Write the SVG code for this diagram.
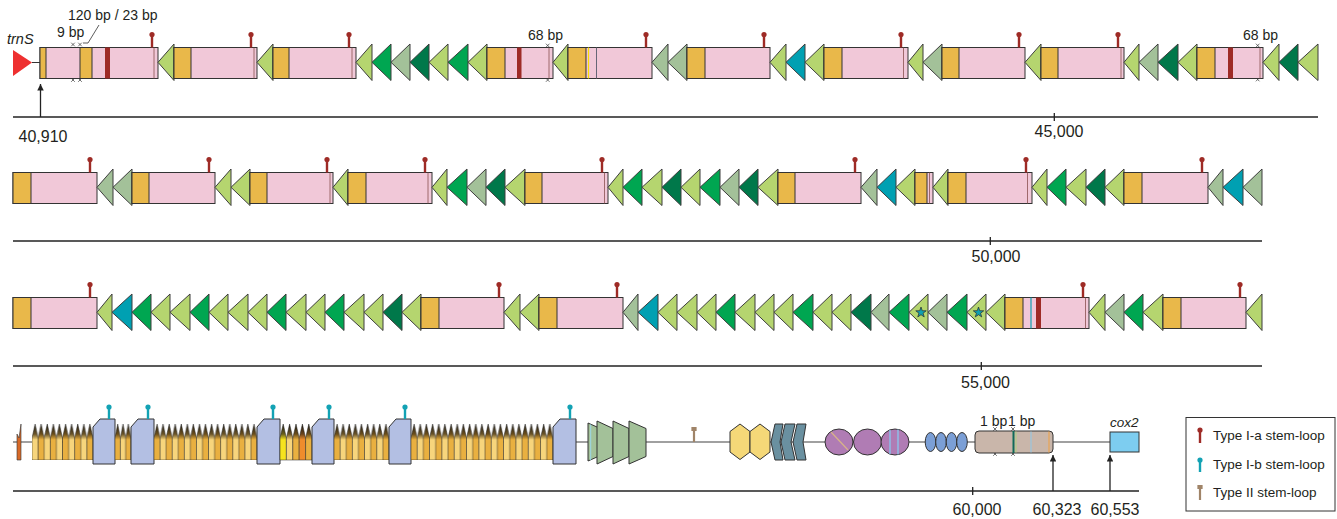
<svg xmlns="http://www.w3.org/2000/svg" width="1337" height="519" viewBox="0 0 1337 519">
<style>
.b{stroke:#333;stroke-width:1}
.pk{fill:#f1c8d8}
.or{fill:#e9b84a}
.dr{fill:#9e2b26}
.t{stroke:#3d3d3d;stroke-width:1;stroke-linejoin:miter}
.lg{fill:#b5d56f}
.g{fill:#00a651}
.gg{fill:#a3c199}
.dg{fill:#00784a}
.tl{fill:#00a0b2}
.thin{stroke:#8a5050;stroke-width:0.8}
.ax{stroke:#222;stroke-width:1.3;fill:none}
.bk{stroke:#808080;stroke-width:1.5}
.lb{font-family:"Liberation Sans",Arial,sans-serif;font-size:16px;fill:#231f20}
.sm{font-family:"Liberation Sans",Arial,sans-serif;font-size:14px;fill:#231f20}
.it{font-style:italic}
.lv{fill:#b3bfe3;stroke:#333;stroke-width:1}
.xm{stroke:#333;stroke-width:0.7}
</style>
<defs>
<g id="sa"><line x1="0" y1="0" x2="0" y2="-12" stroke="#9e2b26" stroke-width="2.4"/><circle cx="0" cy="-13" r="2.6" fill="#9e2b26"/></g>
<g id="sb"><line x1="0" y1="0" x2="0" y2="-11" stroke="#13a2b4" stroke-width="2.4"/><circle cx="0" cy="-12" r="2.6" fill="#13a2b4"/></g>
<g id="s2"><line x1="0" y1="0" x2="0" y2="-12" stroke="#a08468" stroke-width="2.2"/><rect x="-2.6" y="-15" width="5.2" height="4" fill="#a08468"/></g>
<polygon id="star" points="0,-5.5 1.29,-1.78 5.23,-1.7 2.09,0.68 3.23,4.45 0,2.2 -3.23,4.45 -2.09,0.68 -5.23,-1.7 -1.29,-1.78" fill="#10a0b0" stroke="#2a2a2a" stroke-width="0.7"/>
<g id="xx"><line x1="-1.8" y1="-1.8" x2="1.8" y2="1.8"/><line x1="-1.8" y1="1.8" x2="1.8" y2="-1.8"/></g>
<marker id="ah" viewBox="0 0 10 10" refX="10" refY="5" markerWidth="5" markerHeight="5" orient="auto"><path d="M0,0 L10,5 L0,10 z" fill="#222"/></marker>
<linearGradient id="zgL" x1="0" y1="0" x2="0" y2="1"><stop offset="0" stop-color="#1e1a12"/><stop offset="0.28" stop-color="#6a5428"/><stop offset="0.44" stop-color="#f7d57c"/><stop offset="1" stop-color="#f7d57c"/></linearGradient>
<linearGradient id="zgO" x1="0" y1="0" x2="0" y2="1"><stop offset="0" stop-color="#1e1a12"/><stop offset="0.28" stop-color="#6a4e1c"/><stop offset="0.44" stop-color="#e9b040"/><stop offset="1" stop-color="#e9b040"/></linearGradient>
<linearGradient id="zgY" x1="0" y1="0" x2="0" y2="1"><stop offset="0" stop-color="#1e1a12"/><stop offset="0.28" stop-color="#6a601c"/><stop offset="0.44" stop-color="#f6e31e"/><stop offset="1" stop-color="#f6e31e"/></linearGradient>
<linearGradient id="zgR" x1="0" y1="0" x2="0" y2="1"><stop offset="0" stop-color="#1e1a12"/><stop offset="0.28" stop-color="#6a441c"/><stop offset="0.44" stop-color="#ef8c2c"/><stop offset="1" stop-color="#ef8c2c"/></linearGradient>
<pattern id="zz1" patternUnits="userSpaceOnUse" x="32" y="424" width="12.2" height="36"><polygon points="0,36 0,14 3.05,0 6.1,14 6.1,36" fill="url(#zgL)" stroke="#222" stroke-width="0.5"/><polygon points="6.1,36 6.1,14 9.15,0 12.2,14 12.2,36" fill="url(#zgO)" stroke="#222" stroke-width="0.5"/></pattern>
<pattern id="zz2" patternUnits="userSpaceOnUse" x="115" y="424" width="10.66" height="36"><polygon points="0,36 0,14 2.67,0 5.33,14 5.33,36" fill="url(#zgO)" stroke="#222" stroke-width="0.5"/><polygon points="5.33,36 5.33,14 8,0 10.66,14 10.66,36" fill="url(#zgL)" stroke="#222" stroke-width="0.5"/></pattern>
<pattern id="zz3" patternUnits="userSpaceOnUse" x="154" y="424" width="12.12" height="36"><polygon points="0,36 0,14 3.03,0 6.06,14 6.06,36" fill="url(#zgO)" stroke="#222" stroke-width="0.5"/><polygon points="6.06,36 6.06,14 9.09,0 12.12,14 12.12,36" fill="url(#zgL)" stroke="#222" stroke-width="0.5"/></pattern>
<pattern id="zz5" patternUnits="userSpaceOnUse" x="334" y="424" width="12.22" height="36"><polygon points="0,36 0,14 3.05,0 6.11,14 6.11,36" fill="url(#zgO)" stroke="#222" stroke-width="0.5"/><polygon points="6.11,36 6.11,14 9.16,0 12.22,14 12.22,36" fill="url(#zgL)" stroke="#222" stroke-width="0.5"/></pattern>
<pattern id="zz6" patternUnits="userSpaceOnUse" x="411" y="424" width="12.34" height="36"><polygon points="0,36 0,14 3.08,0 6.17,14 6.17,36" fill="url(#zgO)" stroke="#222" stroke-width="0.5"/><polygon points="6.17,36 6.17,14 9.25,0 12.34,14 12.34,36" fill="url(#zgL)" stroke="#222" stroke-width="0.5"/></pattern>
</defs>
<rect width="1337" height="519" fill="#fff"/>

<g id="connectors">
<line class="ax" x1="13" y1="117" x2="1318" y2="117"/>
<line class="ax" x1="1054.3" y1="113" x2="1054.3" y2="121"/>
<line class="ax" x1="40.5" y1="117" x2="40.5" y2="84" marker-end="url(#ah)"/>
<line class="ax" x1="13" y1="241" x2="1262" y2="241"/>
<line class="ax" x1="990.3" y1="237" x2="990.3" y2="245"/>
<line class="ax" x1="13" y1="366" x2="1262" y2="366"/>
<line class="ax" x1="981.3" y1="362" x2="981.3" y2="370"/>
<line class="ax" x1="13" y1="491" x2="1139" y2="491"/>
<line class="ax" x1="972.7" y1="487" x2="972.7" y2="495"/>
<line class="ax" x1="1053" y1="491" x2="1053" y2="455" marker-end="url(#ah)"/>
<line class="ax" x1="1110" y1="491" x2="1110" y2="455" marker-end="url(#ah)"/>
<line stroke="#333" stroke-width="1" x1="32" y1="62.5" x2="40" y2="62.5"/>
<line class="bk" x1="13" y1="442" x2="1110" y2="442"/>
</g>

<g id="labels">
<text class="lb" x="43" y="141.5" text-anchor="middle">40,910</text>
<text class="lb" x="1059" y="137" text-anchor="middle">45,000</text>
<text class="lb" x="996" y="261.5" text-anchor="middle">50,000</text>
<text class="lb" x="985.5" y="387.5" text-anchor="middle">55,000</text>
<text class="lb" x="977" y="515" text-anchor="middle">60,000</text>
<text class="lb" x="1057" y="515" text-anchor="middle">60,323</text>
<text class="lb" x="1115" y="515" text-anchor="middle">60,553</text>
<text class="sm it" x="7" y="44" style="font-size:14.5px">trnS</text>
<text class="sm" x="57" y="37">9 bp</text>
<text class="sm" x="68" y="20">120 bp / 23 bp</text>
<polyline points="83,43 88,43 99,25" fill="none" stroke="#333" stroke-width="0.8"/>
<text class="sm" x="528" y="40">68 bp</text>
<text class="sm" x="1243" y="40">68 bp</text>
<text class="sm" x="980" y="426">1 bp</text>
<text class="sm" x="1008" y="426">1 bp</text>
<text class="sm it" x="1110" y="427" style="font-size:13.5px">cox2</text>
<g class="xm">
<use href="#xx" x="73" y="44.5"/><use href="#xx" x="80" y="44.5"/><use href="#xx" x="73" y="80"/><use href="#xx" x="80" y="80"/>
<use href="#xx" x="547.7" y="45.5"/><use href="#xx" x="547.7" y="80"/>
<use href="#xx" x="1257.7" y="45.5"/><use href="#xx" x="1257.7" y="79.5"/>
<use href="#xx" x="995" y="429"/><use href="#xx" x="995" y="454"/><use href="#xx" x="1013" y="429"/><use href="#xx" x="1013" y="454"/>
</g>
</g>

<!-- ROW 1 -->
<g id="r1_trnS"><polygon points="13,50 32,62.5 13,76" fill="#ee3030"/></g>
<g id="r1_A"><rect class="b pk" x="40" y="47.5" width="118" height="31"/><rect class="b or" x="40" y="47.5" width="6" height="31"/><rect class="b or" x="80" y="47.5" width="12" height="31"/><rect class="dr" x="105" y="47.5" width="5" height="31"/><line class="thin" x1="154" y1="47.5" x2="154" y2="78.5"/><use href="#sa" x="152" y="47.5"/></g>
<g id="r1_t1"><polygon class="t lg" points="158,62.3 174,44 174,80.5"/></g>
<g id="r1_B"><rect class="b pk" x="174" y="47.5" width="83" height="31"/><rect class="b or" x="174" y="47.5" width="17" height="31"/><line class="thin" x1="254" y1="47.5" x2="254" y2="78.5"/><use href="#sa" x="251" y="47.5"/></g>
<g id="r1_t2"><polygon class="t lg" points="257,62.3 273,44 273,80.5"/></g>
<g id="r1_C"><rect class="b pk" x="273" y="47.5" width="83" height="31"/><rect class="b or" x="273" y="47.5" width="16" height="31"/><line class="thin" x1="352" y1="47.5" x2="352" y2="78.5"/><use href="#sa" x="349" y="47.5"/></g>
<g id="r1_t3"><polygon class="t lg" points="356,62.3 372,44 372,80.5"/></g>
<g id="r1_t4"><polygon class="t g" points="372,62.3 391,44 391,80.5"/></g>
<g id="r1_t5"><polygon class="t gg" points="391,62.3 410,44 410,80.5"/></g>
<g id="r1_t6"><polygon class="t dg" points="410,62.3 429,44 429,80.5"/></g>
<g id="r1_t7"><polygon class="t lg" points="429,62.3 448,44 448,80.5"/></g>
<g id="r1_t8"><polygon class="t g" points="448,62.3 468,44 468,80.5"/></g>
<g id="r1_t9"><polygon class="t lg" points="468,62.3 487,44 487,80.5"/></g>
<g id="r1_D"><rect class="b pk" x="487" y="47.5" width="66" height="31"/><rect class="b or" x="487" y="47.5" width="18" height="31"/><rect class="dr" x="517" y="47.5" width="4.5" height="31"/><line class="thin" x1="549" y1="47.5" x2="549" y2="78.5"/></g>
<g id="r1_t10"><polygon class="t lg" points="553,62.3 568,44 568,80.5"/></g>
<g id="r1_E"><rect class="b pk" x="568" y="47.5" width="84" height="31"/><rect class="b or" x="568" y="47.5" width="18" height="31"/><line x1="588.5" y1="47.5" x2="588.5" y2="78.5" stroke="#f5e000" stroke-width="1.2"/><line x1="596.5" y1="47.5" x2="596.5" y2="78.5" stroke="#667" stroke-width="1"/><use href="#sa" x="646" y="47.5"/></g>
<g id="r1_t11"><polygon class="t gg" points="652,62.3 668,44 668,80.5"/></g>
<g id="r1_t12"><polygon class="t gg" points="668,62.3 687,44 687,80.5"/></g>
<g id="r1_F"><rect class="b pk" x="687" y="47.5" width="83" height="31"/><rect class="b or" x="687" y="47.5" width="18" height="31"/><use href="#sa" x="764" y="47.5"/></g>
<g id="r1_t13"><polygon class="t lg" points="770,62.3 786,44 786,80.5"/></g>
<g id="r1_t14"><polygon class="t tl" points="786,62.3 805,44 805,80.5"/></g>
<g id="r1_t15"><polygon class="t lg" points="805,62.3 824,44 824,80.5"/></g>
<g id="r1_G"><rect class="b pk" x="824" y="47.5" width="84" height="31"/><rect class="b or" x="824" y="47.5" width="18" height="31"/><line class="thin" x1="903.5" y1="47.5" x2="903.5" y2="78.5"/><use href="#sa" x="901" y="47.5"/></g>
<g id="r1_t16"><polygon class="t lg" points="908,62.3 923,44 923,80.5"/></g>
<g id="r1_t17"><polygon class="t gg" points="923,62.3 942,44 942,80.5"/></g>
<g id="r1_H"><rect class="b pk" x="942" y="47.5" width="83" height="31"/><rect class="b or" x="942" y="47.5" width="17" height="31"/><use href="#sa" x="1019" y="47.5"/></g>
<g id="r1_t18"><polygon class="t lg" points="1025,62.3 1041,44 1041,80.5"/></g>
<g id="r1_I"><rect class="b pk" x="1041" y="47.5" width="83" height="31"/><rect class="b or" x="1041" y="47.5" width="17" height="31"/><line class="thin" x1="1121" y1="47.5" x2="1121" y2="78.5"/><use href="#sa" x="1118" y="47.5"/></g>
<g id="r1_t19"><polygon class="t lg" points="1124,62.3 1139,44 1139,80.5"/></g>
<g id="r1_t20"><polygon class="t gg" points="1139,62.3 1158,44 1158,80.5"/></g>
<g id="r1_t21"><polygon class="t dg" points="1158,62.3 1178,44 1178,80.5"/></g>
<g id="r1_t22"><polygon class="t lg" points="1178,62.3 1197,44 1197,80.5"/></g>
<g id="r1_J"><rect class="b pk" x="1197" y="47.5" width="66" height="31"/><rect class="b or" x="1197" y="47.5" width="18" height="31"/><rect class="dr" x="1228" y="47.5" width="5" height="31"/><line class="thin" x1="1260" y1="47.5" x2="1260" y2="78.5"/></g>
<g id="r1_t23"><polygon class="t lg" points="1263,62.3 1279,44 1279,80.5"/></g>
<g id="r1_t24"><polygon class="t dg" points="1279,62.3 1298,44 1298,80.5"/></g>
<g id="r1_t25"><polygon class="t lg" points="1298,62.3 1318,44 1318,80.5"/></g>

<!-- ROW 2 -->
<g id="r2_A"><rect class="b pk" x="13" y="172.5" width="84" height="31"/><rect class="b or" x="13" y="172.5" width="18" height="31"/><use href="#sa" x="90" y="172.5"/></g>
<g id="r2_t1"><polygon class="t gg" points="97,187.3 113,169 113,205.5"/></g>
<g id="r2_t2"><polygon class="t gg" points="113,187.3 132,169 132,205.5"/></g>
<g id="r2_B"><rect class="b pk" x="132" y="172.5" width="83" height="31"/><rect class="b or" x="132" y="172.5" width="17" height="31"/><use href="#sa" x="209" y="172.5"/></g>
<g id="r2_t3"><polygon class="t lg" points="215,187.3 231,169 231,205.5"/></g>
<g id="r2_t4"><polygon class="t lg" points="231,187.3 250,169 250,205.5"/></g>
<g id="r2_C"><rect class="b pk" x="250" y="172.5" width="83" height="31"/><rect class="b or" x="250" y="172.5" width="17" height="31"/><line class="thin" x1="330" y1="172.5" x2="330" y2="203.5"/><use href="#sa" x="327" y="172.5"/></g>
<g id="r2_t5"><polygon class="t lg" points="333,187.3 348,169 348,205.5"/></g>
<g id="r2_D"><rect class="b pk" x="348" y="172.5" width="84" height="31"/><rect class="b or" x="348" y="172.5" width="18" height="31"/><line class="thin" x1="428" y1="172.5" x2="428" y2="203.5"/><use href="#sa" x="425" y="172.5"/></g>
<g id="r2_t6"><polygon class="t lg" points="432,187.3 447,169 447,205.5"/></g>
<g id="r2_t7"><polygon class="t g" points="447,187.3 467,169 467,205.5"/></g>
<g id="r2_t8"><polygon class="t gg" points="467,187.3 486,169 486,205.5"/></g>
<g id="r2_t9"><polygon class="t dg" points="486,187.3 505,169 505,205.5"/></g>
<g id="r2_t10"><polygon class="t lg" points="505,187.3 525,169 525,205.5"/></g>
<g id="r2_E"><rect class="b pk" x="525" y="172.5" width="83" height="31"/><rect class="b or" x="525" y="172.5" width="17" height="31"/><line class="thin" x1="604.5" y1="172.5" x2="604.5" y2="203.5"/><use href="#sa" x="602" y="172.5"/></g>
<g id="r2_t11"><polygon class="t lg" points="608,187.3 623,169 623,205.5"/></g>
<g id="r2_t12"><polygon class="t g" points="623,187.3 642,169 642,205.5"/></g>
<g id="r2_t13"><polygon class="t lg" points="642,187.3 662,169 662,205.5"/></g>
<g id="r2_t14"><polygon class="t dg" points="662,187.3 681,169 681,205.5"/></g>
<g id="r2_t15"><polygon class="t lg" points="681,187.3 700,169 700,205.5"/></g>
<g id="r2_t16"><polygon class="t g" points="700,187.3 720,169 720,205.5"/></g>
<g id="r2_t17"><polygon class="t gg" points="720,187.3 739,169 739,205.5"/></g>
<g id="r2_t18"><polygon class="t dg" points="739,187.3 758,169 758,205.5"/></g>
<g id="r2_t19"><polygon class="t lg" points="758,187.3 778,169 778,205.5"/></g>
<g id="r2_F"><rect class="b pk" x="778" y="172.5" width="83" height="31"/><rect class="b or" x="778" y="172.5" width="17" height="31"/><use href="#sa" x="855" y="172.5"/></g>
<g id="r2_t20"><polygon class="t gg" points="861,187.3 877,169 877,205.5"/></g>
<g id="r2_t21"><polygon class="t tl" points="877,187.3 896,169 896,205.5"/></g>
<g id="r2_t22"><polygon class="t lg" points="896,187.3 915,169 915,205.5"/></g>
<g id="r2_G"><rect class="b pk" x="915" y="172.5" width="18" height="31"/><rect class="b or" x="915" y="172.5" width="12" height="31"/><line class="thin" x1="929.5" y1="172.5" x2="929.5" y2="203.5"/></g>
<g id="r2_t23"><polygon class="t lg" points="933,187.3 948,169 948,205.5"/></g>
<g id="r2_H"><rect class="b pk" x="948" y="172.5" width="84" height="31"/><rect class="b or" x="948" y="172.5" width="18" height="31"/><line class="thin" x1="1027.5" y1="172.5" x2="1027.5" y2="203.5"/><use href="#sa" x="1026" y="172.5"/></g>
<g id="r2_t24"><polygon class="t lg" points="1032,187.3 1047,169 1047,205.5"/></g>
<g id="r2_t25"><polygon class="t g" points="1047,187.3 1066,169 1066,205.5"/></g>
<g id="r2_t26"><polygon class="t lg" points="1066,187.3 1086,169 1086,205.5"/></g>
<g id="r2_t27"><polygon class="t dg" points="1086,187.3 1105,169 1105,205.5"/></g>
<g id="r2_t28"><polygon class="t lg" points="1105,187.3 1124,169 1124,205.5"/></g>
<g id="r2_I"><rect class="b pk" x="1124" y="172.5" width="84" height="31"/><rect class="b or" x="1124" y="172.5" width="18" height="31"/><use href="#sa" x="1202" y="172.5"/></g>
<g id="r2_t29"><polygon class="t gg" points="1208,187.3 1223,169 1223,205.5"/></g>
<g id="r2_t30"><polygon class="t tl" points="1223,187.3 1243,169 1243,205.5"/></g>
<g id="r2_t31"><polygon class="t gg" points="1243,187.3 1262,169 1262,205.5"/></g>

<!-- ROW 3 -->
<g id="r3_A"><rect class="b pk" x="13" y="297.5" width="84" height="31"/><rect class="b or" x="13" y="297.5" width="18" height="31"/><use href="#sa" x="90" y="297.5"/></g>
<g id="r3_t1"><polygon class="t lg" points="97,312.3 112,294 112,330.5"/></g>
<g id="r3_t2"><polygon class="t tl" points="112,312.3 132,294 132,330.5"/></g>
<g id="r3_t3"><polygon class="t g" points="132,312.3 151,294 151,330.5"/></g>
<g id="r3_t4"><polygon class="t lg" points="151,312.3 170,294 170,330.5"/></g>
<g id="r3_t5"><polygon class="t lg" points="170,312.3 190,294 190,330.5"/></g>
<g id="r3_t6"><polygon class="t g" points="190,312.3 209,294 209,330.5"/></g>
<g id="r3_t7"><polygon class="t lg" points="209,312.3 228,294 228,330.5"/></g>
<g id="r3_t8"><polygon class="t lg" points="228,312.3 248,294 248,330.5"/></g>
<g id="r3_t9"><polygon class="t lg" points="248,312.3 267,294 267,330.5"/></g>
<g id="r3_t10"><polygon class="t g" points="267,312.3 286,294 286,330.5"/></g>
<g id="r3_t11"><polygon class="t lg" points="286,312.3 306,294 306,330.5"/></g>
<g id="r3_t12"><polygon class="t lg" points="306,312.3 325,294 325,330.5"/></g>
<g id="r3_t13"><polygon class="t g" points="325,312.3 344,294 344,330.5"/></g>
<g id="r3_t14"><polygon class="t lg" points="344,312.3 364,294 364,330.5"/></g>
<g id="r3_t15"><polygon class="t lg" points="364,312.3 383,294 383,330.5"/></g>
<g id="r3_t16"><polygon class="t dg" points="383,312.3 402,294 402,330.5"/></g>
<g id="r3_t17"><polygon class="t lg" points="402,312.3 421,294 421,330.5"/></g>
<g id="r3_B"><rect class="b pk" x="421" y="297.5" width="83" height="31"/><rect class="b or" x="421" y="297.5" width="18" height="31"/><use href="#sa" x="499" y="297.5"/></g>
<g id="r3_t18"><polygon class="t lg" points="504,312.3 520,294 520,330.5"/></g>
<g id="r3_t19"><polygon class="t lg" points="520,312.3 539,294 539,330.5"/></g>
<g id="r3_C"><rect class="b pk" x="539" y="297.5" width="84" height="31"/><rect class="b or" x="539" y="297.5" width="18" height="31"/><use href="#sa" x="617" y="297.5"/></g>
<g id="r3_t20"><polygon class="t gg" points="623,312.3 638,294 638,330.5"/></g>
<g id="r3_t21"><polygon class="t tl" points="638,312.3 658,294 658,330.5"/></g>
<g id="r3_t22"><polygon class="t lg" points="658,312.3 677,294 677,330.5"/></g>
<g id="r3_t23"><polygon class="t lg" points="677,312.3 697,294 697,330.5"/></g>
<g id="r3_t24"><polygon class="t lg" points="697,312.3 716,294 716,330.5"/></g>
<g id="r3_t25"><polygon class="t g" points="716,312.3 735,294 735,330.5"/></g>
<g id="r3_t26"><polygon class="t lg" points="735,312.3 755,294 755,330.5"/></g>
<g id="r3_t27"><polygon class="t lg" points="755,312.3 774,294 774,330.5"/></g>
<g id="r3_t28"><polygon class="t lg" points="774,312.3 793,294 793,330.5"/></g>
<g id="r3_t29"><polygon class="t g" points="793,312.3 813,294 813,330.5"/></g>
<g id="r3_t30"><polygon class="t lg" points="813,312.3 832,294 832,330.5"/></g>
<g id="r3_t31"><polygon class="t lg" points="832,312.3 851,294 851,330.5"/></g>
<g id="r3_t32"><polygon class="t dg" points="851,312.3 871,294 871,330.5"/></g>
<g id="r3_t33"><polygon class="t gg" points="871,312.3 889,294 889,330.5"/></g>
<g id="r3_t34"><polygon class="t g" points="889,312.3 909,294 909,330.5"/></g>
<g id="r3_t35"><polygon class="t lg" points="909,312.3 928,294 928,330.5"/><use href="#star" x="921" y="312.5"/></g>
<g id="r3_t36"><polygon class="t gg" points="928,312.3 947,294 947,330.5"/></g>
<g id="r3_t37"><polygon class="t g" points="947,312.3 967,294 967,330.5"/></g>
<g id="r3_t38"><polygon class="t lg" points="967,312.3 986,294 986,330.5"/><use href="#star" x="978.5" y="312.5"/></g>
<g id="r3_t39"><polygon class="t lg" points="986,312.3 1005,294 1005,330.5"/></g>
<g id="r3_D"><rect class="b pk" x="1005" y="297.5" width="84" height="31"/><rect class="b or" x="1005" y="297.5" width="18" height="31"/><line x1="1031" y1="297.5" x2="1031" y2="328.5" stroke="#10a0b0" stroke-width="1.2"/><rect class="dr" x="1036" y="297.5" width="5" height="31"/><line class="thin" x1="1085.5" y1="297.5" x2="1085.5" y2="328.5"/><use href="#sa" x="1083" y="297.5"/></g>
<g id="r3_t40"><polygon class="t lg" points="1089,312.3 1105,294 1105,330.5"/></g>
<g id="r3_t41"><polygon class="t gg" points="1105,312.3 1124,294 1124,330.5"/></g>
<g id="r3_t42"><polygon class="t g" points="1124,312.3 1143,294 1143,330.5"/></g>
<g id="r3_t43"><polygon class="t lg" points="1143,312.3 1163,294 1163,330.5"/></g>
<g id="r3_E"><rect class="b pk" x="1163" y="297.5" width="83" height="31"/><rect class="b or" x="1163" y="297.5" width="18" height="31"/><use href="#sa" x="1240" y="297.5"/></g>
<g id="r3_t44"><polygon class="t lg" points="1246,312.3 1262,294 1262,330.5"/></g>

<!-- ROW 4 -->
<g id="r4_small"><polygon points="17,460 17,434 19,438 21,424 21,460" fill="#d86a28" stroke="#333" stroke-width="0.6"/></g>
<g id="r4_z1"><rect x="32" y="424" width="61" height="36" fill="url(#zz1)"/></g>
<g id="r4_L1"><polygon class="lv" points="93,427 100,419 115,419 115,464 93,464"/><use href="#sb" x="109" y="419"/></g>
<g id="r4_z2"><rect x="115" y="424" width="16" height="36" fill="url(#zz2)"/></g>
<g id="r4_L2"><polygon class="lv" points="131,427 138,419 154,419 154,464 131,464"/><use href="#sb" x="148" y="419"/></g>
<g id="r4_z3"><rect x="154" y="424" width="103" height="36" fill="url(#zz3)"/></g>
<g id="r4_L3"><polygon class="lv" points="257,427 264,419 280,419 280,464 257,464"/><use href="#sb" x="273" y="419"/></g>
<g id="r4_z4" stroke="#222" stroke-width="0.5">
<polygon points="280,460 280,438 283.2,424 286.4,438 286.4,460" fill="url(#zgY)"/>
<polygon points="286.4,460 286.4,438 289.6,424 292.8,438 292.8,460" fill="url(#zgL)"/>
<polygon points="292.8,460 292.8,438 296,424 299.2,438 299.2,460" fill="url(#zgO)"/>
<polygon points="299.2,460 299.2,438 302.4,424 305.6,438 305.6,460" fill="url(#zgR)"/>
<polygon points="305.6,460 305.6,438 308.8,424 312,438 312,460" fill="url(#zgO)"/>
</g>
<g id="r4_L4"><polygon class="lv" points="312,427 319,419 334,419 334,464 312,464"/><use href="#sb" x="329" y="419"/></g>
<g id="r4_z5"><rect x="334" y="424" width="55" height="36" fill="url(#zz5)"/></g>
<g id="r4_L5"><polygon class="lv" points="389,427 396,419 411,419 411,464 389,464"/><use href="#sb" x="405" y="419"/></g>
<g id="r4_z6"><rect x="411" y="424" width="142" height="36" fill="url(#zz6)"/></g>
<g id="r4_L6"><polygon class="lv" points="553,427 560,419 576,419 576,464 553,464"/><use href="#sb" x="570" y="419"/></g>
<g id="r4_trap" class="gg" stroke="#333" stroke-width="1">
<polygon points="588,423 606,431 606,453 588,461"/>
<line x1="590.7" y1="424.5" x2="590.7" y2="460" stroke="#9cd8e8" stroke-width="1"/>
<polygon points="597,421 613,428.5 613,456.5 597,464"/>
<polygon points="613,421 629,428.5 629,456.5 613,464"/>
<polygon points="629,421 646,428.5 646,456.5 629,464"/>
</g>
<g id="r4_s2"><use href="#s2" x="694" y="442"/></g>
<g id="r4_hex" fill="#f5d878" stroke="#333" stroke-width="1">
<polygon points="730,431.5 740,424 750,431.5 750,452 740,459.5 730,452"/>
<polygon points="750,431.5 760,424 770,431.5 770,452 760,459.5 750,452"/>
</g>
<g id="r4_chev" fill="#6a90a0" stroke="#333" stroke-width="1">
<polygon points="775,424 783,424 780,442 783,460 775,460 771,442"/>
<polygon points="785,424 795,424 791,442 795,460 785,460 781,442"/>
<polygon points="797,424 806,424 803,442 806,460 797,460 793,442"/>
</g>
<g id="r4_circ" fill="#b07cb4" stroke="#333" stroke-width="1">
<ellipse cx="839" cy="442" rx="14" ry="13"/>
<line x1="831" y1="432" x2="848" y2="450" stroke="#d8b488" stroke-width="1.2"/>
<ellipse cx="867.5" cy="442" rx="14" ry="13"/>
<ellipse cx="895" cy="442" rx="14" ry="13"/>
<line x1="890" y1="430" x2="890" y2="454" stroke="#88c8f0" stroke-width="1.3"/>
<line x1="898" y1="429.5" x2="898" y2="454.5" stroke="#88c8f0" stroke-width="1.3"/>
</g>
<g id="r4_ell" fill="#7b9fd6" stroke="#333" stroke-width="1">
<ellipse cx="930.5" cy="442" rx="5.3" ry="9.5"/>
<ellipse cx="941" cy="442" rx="5.3" ry="9.5"/>
<ellipse cx="951.5" cy="442" rx="5.3" ry="9.5"/>
<ellipse cx="962" cy="442" rx="5.3" ry="9.5"/>
</g>
<g id="r4_tan">
<rect x="975" y="431" width="78" height="22" rx="4" fill="#c9b6aa" stroke="#333" stroke-width="1"/>
<line x1="1013.5" y1="431" x2="1013.5" y2="453" stroke="#106a58" stroke-width="2"/>
<line x1="1016" y1="431.5" x2="1016" y2="452.5" stroke="#b0d080" stroke-width="1"/>
<line x1="1031" y1="431.5" x2="1031" y2="452.5" stroke="#90c8e8" stroke-width="1"/>
<line x1="1049" y1="431.5" x2="1049" y2="452.5" stroke="#f0a040" stroke-width="1"/>
</g>
<g id="r4_cox2"><rect x="1110" y="432" width="29" height="20" fill="#7dcdf0" stroke="#333" stroke-width="1"/></g>

<!-- LEGEND -->
<g id="legend">
<rect x="1186" y="417.5" width="149" height="93.5" fill="#fff" stroke="#333" stroke-width="1"/>
<use href="#sa" x="1200" y="443"/>
<use href="#sb" x="1200" y="472"/>
<use href="#s2" x="1200" y="500"/>
<text class="sm" x="1213" y="440" style="font-size:13.5px">Type I-a stem-loop</text>
<text class="sm" x="1213" y="468.5" style="font-size:13.5px">Type I-b stem-loop</text>
<text class="sm" x="1213" y="497" style="font-size:13.5px">Type II stem-loop</text>
</g>
</svg>
